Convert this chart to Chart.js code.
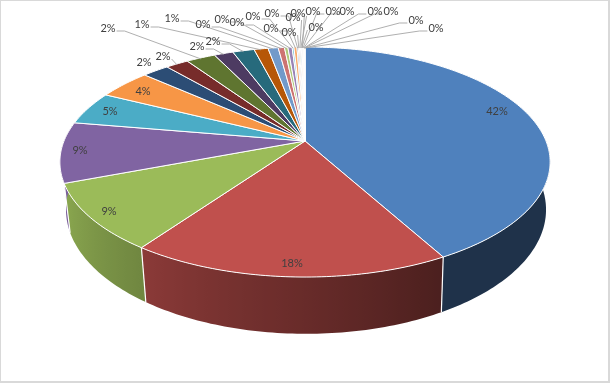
<!DOCTYPE html>
<html><head><meta charset="utf-8">
<style>html,body{margin:0;padding:0;background:#fff}#w{position:relative;width:610px;height:383px;overflow:hidden}
canvas{display:block}#b{position:absolute;left:0;top:0;width:610px;height:383px;box-sizing:border-box;border:1px solid #d9d9d9;border-right-width:2px;border-bottom-width:2px;pointer-events:none}</style>
<script src="https://cdn.jsdelivr.net/npm/chart.js@4"></script></head>
<body><div id="w"><canvas id="c" width="610" height="383"></canvas><div id="b"></div></div>
<script>
const categories = ["A01","A02","A03","A04","A05","A06","A07","A08","A09","A10","A11","A12","A13","A14","A15","A16","A17","A18","A19","A20","A21","A22","A23","A24","A25","A26","A27","A28","A29","A30"];
const values = [42,17.8,9.4,8.5,4.7,4.2,2.1,1.8,2.3,1.5,1.7,1.1,0.8,0.49,0.27,0.33,0.14,0.24,0.1,0.09,0.08,0.07,0.06,0.05,0.05,0.04,0.03,0.03,0.02,0.01];
const colors = ["#4F81BD","#C0504D","#9BBB59","#8064A2","#4BACC6","#F79646","#2C4D75","#772C2A","#5F7530","#4D3B62","#276A7C","#B65708","#729ACA","#CD7371","#AFC97A","#9983B5","#6FBDD1","#F9AB6B","#3A679C","#9E3B38","#7E9C40","#664F83","#358EA6","#F3740B","#95B3D7","#D99694","#C3D69B","#B2A1C7","#93CDDD","#FAC090"];
// layout (label centres in canvas pixels, in slice order)
const labelSpots = [[497,111],[292,263],[109,211],[80,150],[110,111],[143,91],[144,62],[163,56],[108,28],[197,46],[213,41],[142,24],[172,18],[203,24],[222,19],[237,22],[253,16],[271,28],[272,13],[289,32],[293,17],[298,13],[316,27],[313,11],[333,11],[347,11],[375,11],[391,11],[416,20],[436,28]];
const firstLeader = 7;
const view = {cx:305, topY:141, kx:241, ky:111.2, q:0.1826, baseCx:306, baseY:187, baseKx:236, baseKy:120};
function project(a, base){
  const u=Math.cos(a), v=Math.sin(a), w=1-view.q*v;
  return base ? [view.baseCx+view.baseKx*u/w, view.baseY+view.baseKy*v/w] : [view.cx+view.kx*u/w, view.topY+view.ky*v/w];
}
function shade(hex,f){
  const n=parseInt(hex.slice(1),16);
  return `rgb(${Math.round((n>>16&255)*f)},${Math.round((n>>8&255)*f)},${Math.round((n&255)*f)})`;
}
function wallShade(a){
  const deg=(a+Math.PI/2)*180/Math.PI;
  return deg<151?0.39:Math.min(0.95,0.39+(deg-151)*0.0052);
}
const pie3d = {
  id:'pie3d',
  beforeDatasetDraw(chart,args){
    const ctx=chart.ctx, arcs=chart.getDatasetMeta(args.index).data, total=values.reduce((s,x)=>s+x,0);
    const step=Math.PI/180;
    ctx.save();
    // side wall: only the part of the rim turned towards the viewer, one gradient-filled band per slice
    const lo=-0.05, hi=Math.PI+0.3;
    arcs.forEach((el,i)=>{
      const s=Math.max(el.startAngle,lo), e=Math.min(el.endAngle,hi);
      if(e<=s) return;
      const n=Math.max(2,Math.ceil((e-s)/step)), samples=[];
      for(let k=0;k<=n;k++) samples.push(s+(e-s)*k/n);
      const rim=samples.map(a=>project(a)), foot=samples.map(a=>project(a,1));
      const xs=rim.map(p=>p[0]), x0=Math.min(...xs), x1=Math.max(...xs);
      const g=ctx.createLinearGradient(x0,0,x1,0);
      samples.forEach((a,k)=>g.addColorStop(Math.min(1,Math.max(0,(xs[k]-x0)/Math.max(1,x1-x0))),shade(colors[i],wallShade(a))));
      ctx.beginPath();
      rim.forEach((p,k)=>k?ctx.lineTo(p[0],p[1]):ctx.moveTo(p[0],p[1]));
      foot.reverse().forEach(p=>ctx.lineTo(p[0],p[1]));
      ctx.closePath(); ctx.fillStyle=g; ctx.fill();
    });
    arcs.forEach(el=>{
      const a=el.startAngle;
      if(a>0.3&&a<hi){const p=project(a),q=project(a,1);ctx.beginPath();ctx.moveTo(p[0],p[1]);ctx.lineTo(q[0],q[1]);ctx.strokeStyle='#fff';ctx.lineWidth=1.2;ctx.stroke();}
    });
    // top surface
    arcs.forEach((el,i)=>{
      ctx.beginPath(); ctx.moveTo(view.cx,view.topY);
      const n=Math.max(2,Math.ceil((el.endAngle-el.startAngle)/step));
      for(let k=0;k<=n;k++){const p=project(el.startAngle+(el.endAngle-el.startAngle)*k/n);ctx.lineTo(p[0],p[1]);}
      ctx.closePath(); ctx.fillStyle=colors[i]; ctx.fill();
      ctx.strokeStyle='#fff'; ctx.lineWidth=1; ctx.lineJoin='round'; ctx.stroke();
    });
    // leaders
    ctx.font='11px Lato'; ctx.textAlign='center'; ctx.textBaseline='middle';
    ctx.strokeStyle='#a6a6a6'; ctx.lineWidth=0.9;
    arcs.forEach((el,i)=>{
      if(i<firstLeader) return;
      const txt=Math.round(values[i]/total*100)+'%', w=ctx.measureText(txt).width, [x,y]=labelSpots[i];
      const r=project((el.startAngle+el.endAngle)/2), side=r[0]>=x?1:-1, far=Math.abs(r[0]-x)>20;
      const sx=x+side*(w/2+1), sy=y+3;
      ctx.beginPath(); ctx.moveTo(sx,sy);
      if(far) ctx.lineTo(sx+side*8,sy);
      ctx.lineTo(r[0],r[1]+1); ctx.stroke();
    });
    // labels
    ctx.fillStyle='#404040';
    arcs.forEach((el,i)=>{
      ctx.fillText(Math.round(values[i]/total*100)+'%',labelSpots[i][0],labelSpots[i][1]);
    });
    ctx.restore();
    return false;
  }
};
new Chart(document.getElementById('c'),{
  type:'pie',
  data:{labels:categories,datasets:[{data:values,backgroundColor:colors,borderColor:'#fff',borderWidth:1}]},
  options:{responsive:false,animation:false,layout:{padding:0},plugins:{legend:{display:false},tooltip:{enabled:false}}},
  plugins:[pie3d]
});
</script></body></html>
